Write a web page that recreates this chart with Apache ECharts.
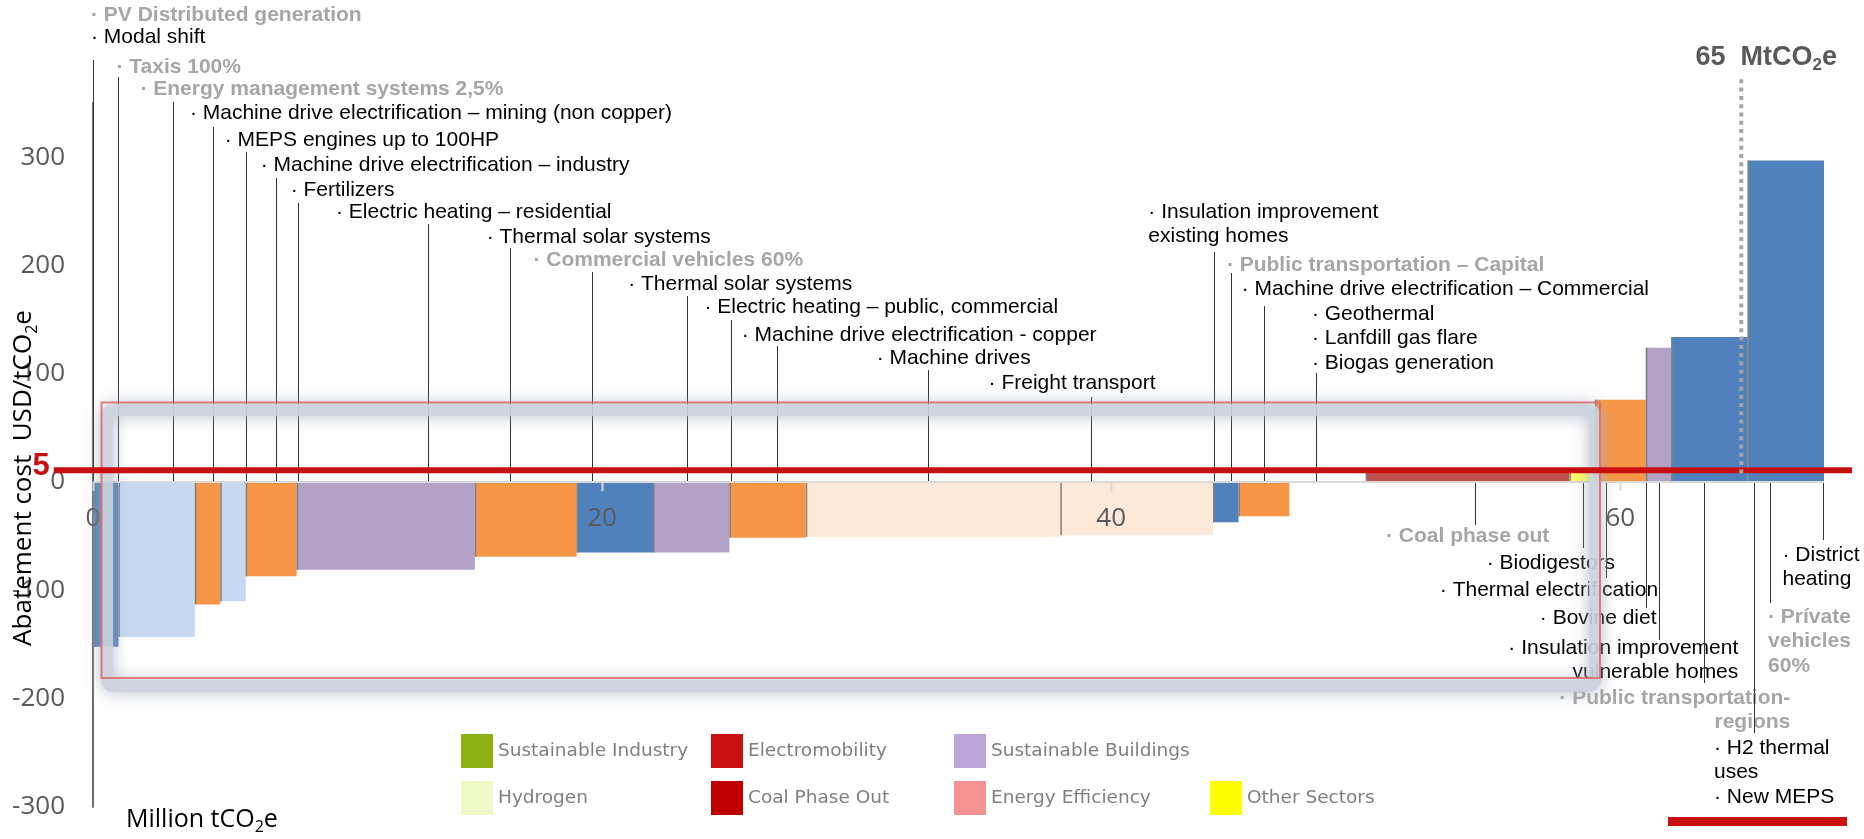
<!DOCTYPE html>
<html>
<head>
<meta charset="utf-8">
<script src="https://cdn.jsdelivr.net/npm/echarts@6/dist/echarts.min.js"></script>
<style>
html,body{margin:0;padding:0;background:#fff;}
#chart{width:1864px;height:839px;}
</style>
</head>
<body>
<div id="chart"></div>
<script>
// ---------------- DATA ----------------
// Bars of the abatement cost curve (width = MtCO2e, cost = USD/tCO2e)
const barWidths = [1, 3, 1, 1, 2, 7, 4, 3, 3, 3, 10, 6, 1, 2, 1, 1, 1, 8, 1, 2, 1, 3, 3];
const barCosts  = [-152, -143, -113, -110, -87, -81, -69, -65, -65, -51.5, -50.5, -49, -37, -31.5, 0, 0, 0, 10, 10, 76, 124, 134, 297];
const barGroups = ['blue','ltblue','orange','ltblue','orange','purple','orange','blue','purple','orange','peach','peach','blue','orange','none','none','none','coal','yellow','orange','purple','blue','blue'];

// Measures annotated on the curve
const measureNames = [
  ['· PV Distributed generation'],
  ['· Modal shift'],
  ['· Taxis 100%'],
  ['· Energy management systems 2,5%'],
  ['· Machine drive electrification – mining (non copper)'],
  ['· MEPS engines up to 100HP'],
  ['· Machine drive electrification – industry'],
  ['· Fertilizers'],
  ['· Electric heating – residential'],
  ['· Thermal solar systems'],
  ['· Commercial vehicles 60%'],
  ['· Thermal solar systems'],
  ['· Electric heating – public, commercial'],
  ['· Machine drive electrification - copper'],
  ['· Machine drives'],
  ['· Freight transport'],
  ['· Insulation improvement', 'existing homes'],
  ['· Public transportation – Capital'],
  ['· Machine drive electrification – Commercial'],
  ['· Geothermal', '· Lanfdill gas flare', '· Biogas generation'],
  ['· Coal phase out'],
  ['· Biodigestors'],
  ['· Thermal electrification'],
  ['· Bovine diet'],
  ['· Insulation improvement', 'vulnerable homes'],
  ['· Public transportation-', 'regions'],
  ['· H2 thermal', 'uses', '· New MEPS'],
  ['· Prívate', 'vehicles', '60%'],
  ['· District', 'heating']
];
const measureX = [0, 0, 1.0, 3.16, 4.71, 6.0, 7.18, 8.04, 13.16, 16.37, 19.62, 23.34, 25.08, 26.86, 32.79, 39.19, 44.05, 44.7, 45.99, 48.04, 54.29, 58.52, 59.43, 61.0, 61.53, 63.3, 65.25, 65.88, 67.98];
const measureFaded = [1,0,1,1,0,0,0,0,0,0,1,0,0,0,0,0,0,1,0,0,1,0,0,0,0,1,0,1,0];

const xTickValues = [0, 20, 40, 60];
const xTickLabels = ['0', '20', '40', '60'];
const yTickValues = [300, 200, 100, 0, -100, -200, -300];
const yTickLabels = ['300', '200', '100', '0', '-100', '-200', '-300'];
const yRange = { min: -300, max: 350 };
const thresholdLine = [-1.54, 69.1, 11];   // x from, x to, cost (red line)
const thresholdLabel = '5';
const totalLine = [64.75, 8, 375];         // x, cost from, cost to (dotted total)
const totalLabel = ['65  MtCO', '2', 'e'];
const legendNames = ['Sustainable Industry','Hydrogen','Electromobility','Coal Phase Out','Sustainable Buildings','Energy Efficiency','Other Sectors'];

// ---------------- LAYOUT / STYLE ----------------
const groupColors = { blue:'#4F81BD', ltblue:'#C6D9F1', orange:'#F79646', purple:'#B2A2C7', peach:'#FDE9D9', coal:'#C0504D', yellow:'#FFFF66', none:'rgba(0,0,0,0)' };
const legendColors = { 'Sustainable Industry':'#8DB012', 'Hydrogen':'#EFF9C8', 'Electromobility':'#C81010', 'Coal Phase Out':'#C00000', 'Sustainable Buildings':'#BCA6D8', 'Energy Efficiency':'#F59393', 'Other Sectors':'#FFFF00' };
// [text dx from leader (px), first line y (px), leader end y (px), align]
const labelLayout = [
  [-2, 15, null], [-2, 37, 60], [-2, 67, 77], [-33, 89, 102], [-23, 113, 127],
  [-21, 140, 152], [-15, 165, 178], [-7, 190, 203], [-92, 212, 224], [-23, 237, 248],
  [-59, 260, 272], [-59, 284, 296], [-27, 307, 320], [-35, 335, 346], [-51, 358, 370],
  [-102, 383, 397], [-66, 212, 252], [-4, 265, 273], [-22, 289, 306], [-4, 314, 373],
  [-89, 536, 525], [-96, 563, 548], [-166, 590, 578], [-106, 618, 608], [79, 648, 640, 'right'],
  [86, 698, 683, 'right'], [-40, 748, 733], [-2, 617, 603], [-41, 555, 540]
];
const LINE_H = 24.5;
const LABEL_FONT = '"Liberation Sans", Arial, Helvetica, sans-serif';
const AXIS_FONT = '"Open Sans", "Noto Sans", sans-serif';

const barStart = [];
(function () { let acc = 0; barWidths.forEach(function (w) { barStart.push(acc); acc += w; }); })();
const xMax = barStart[barStart.length - 1] + barWidths[barWidths.length - 1];

const chart = echarts.init(document.getElementById('chart'), null, { renderer: 'canvas' });

function subRich(size, color, weight, family) {
  return {
    n: { fontSize: size, color: color, fontWeight: weight, fontFamily: family, lineHeight: size + 6 },
    s: { fontSize: Math.round(size * 0.62), color: color, fontWeight: weight, fontFamily: family, verticalAlign: 'bottom', lineHeight: Math.round(size * 0.62) + 2 }
  };
}
function subRichZr(size, color, weight, family) {
  return {
    n: { fontSize: size, fill: color, fontWeight: weight, fontFamily: family, lineHeight: size + 6 },
    s: { fontSize: Math.round(size * 0.62), fill: color, fontWeight: weight, fontFamily: family, verticalAlign: 'bottom', lineHeight: Math.round(size * 0.62) + 2 }
  };
}

function renderBar(params, api) {
  const v = api.value(2);
  if (!v) return null;
  const a = api.coord([api.value(0), 0]);
  const b = api.coord([api.value(1), v]);
  const x = a[0], w = b[0] - a[0];
  const y = Math.min(a[1], b[1]), h = Math.abs(b[1] - a[1]);
  return {
    type: 'group',
    children: [
      { type: 'rect', shape: { x: x, y: y, width: w, height: h }, style: { fill: groupColors[barGroups[params.dataIndex]] } },
      { type: 'line', shape: { x1: x + 0.75, y1: a[1], x2: x + 0.75, y2: b[1] }, style: { stroke: '#808080', lineWidth: 1.5 } }
    ]
  };
}

function renderNote(params, api) {
  const i = params.dataIndex;
  const base = api.coord([measureX[i], 0]);
  const lay = labelLayout[i];
  const faded = measureFaded[i];
  const lx = Math.round(base[0]) + 0.5;
  const children = [];
  measureNames[i].forEach(function (t, k) {
    children.push({
      type: 'text',
      x: base[0] + lay[0],
      y: lay[1] + k * LINE_H,
      style: {
        text: t,
        fill: faded ? '#A6A6A6' : '#000000',
        fontSize: 21,
        fontWeight: faded ? 'bold' : 'normal',
        fontFamily: LABEL_FONT,
        align: lay[3] || 'left',
        verticalAlign: 'middle'
      }
    });
  });
  if (lay[2] != null) {
    children.push({ type: 'line', shape: { x1: lx, y1: lay[2], x2: lx, y2: base[1] }, style: { stroke: '#333333', lineWidth: 1 } });
  }
  return { type: 'group', children: children };
}

function renderXTick(params, api) {
  const i = params.dataIndex;
  const p = api.coord([xTickValues[i], 0]);
  const children = [
    { type: 'line', shape: { x1: Math.round(p[0]) + 0.5, y1: p[1], x2: Math.round(p[0]) + 0.5, y2: p[1] + 9 }, style: { stroke: '#D9D9D9', lineWidth: 2 } },
    { type: 'text', x: p[0], y: p[1] + 37, style: { text: xTickLabels[i], fill: '#595959', fontSize: 26, fontFamily: AXIS_FONT, align: 'center', verticalAlign: 'middle' } }
  ];
  if (i === 0) {
    const e = api.coord([xMax, 0]);
    children.unshift({ type: 'line', shape: { x1: p[0], y1: p[1], x2: e[0], y2: e[1] }, style: { stroke: '#D9D9D9', lineWidth: 2 } });
  }
  return { type: 'group', children: children };
}

function renderYTick(params, api) {
  const i = params.dataIndex;
  const p = api.coord([0, yTickValues[i]]);
  return { type: 'text', x: p[0] - 28, y: p[1], style: { text: yTickLabels[i], fill: '#595959', fontSize: 26, fontFamily: AXIS_FONT, align: 'right', verticalAlign: 'middle' } };
}

function renderThreshold(params, api) {
  const a = api.coord([api.value(0), api.value(2)]);
  const b = api.coord([api.value(1), api.value(2)]);
  return { type: 'group', children: [
    { type: 'line', shape: { x1: a[0], y1: a[1], x2: b[0], y2: b[1] }, style: { stroke: '#C81010', lineWidth: 6 } },
    { type: 'text', x: a[0] - 4, y: a[1] - 4, style: { text: thresholdLabel, fill: '#C81010', fontSize: 31, fontWeight: 'bold', fontFamily: LABEL_FONT, align: 'right', verticalAlign: 'middle' } }
  ]};
}

function renderTotal(params, api) {
  const a = api.coord([api.value(0), api.value(1)]);
  const b = api.coord([api.value(0), api.value(2)]);
  return { type: 'group', children: [
    { type: 'line', shape: { x1: a[0], y1: a[1], x2: b[0], y2: b[1] }, style: { stroke: '#A6A6A6', lineWidth: 4, lineDash: [4, 4.3] } },
    { type: 'text', x: b[0] + 25, y: b[1] - 2,
      style: { text: '{n|' + totalLabel[0] + '}{s|' + totalLabel[1] + '}{n|' + totalLabel[2] + '}', rich: subRichZr(27, '#595959', 'bold', LABEL_FONT), align: 'center', verticalAlign: 'bottom' } }
  ]};
}

const legendCols = [[legendNames[0], legendNames[1]], [legendNames[2], legendNames[3]], [legendNames[4], legendNames[5]], [legendNames[6]]];
const legendPos = [[461, 734], [711, 734], [954, 734], [1210, 781]];

const option = {
  animation: false,
  backgroundColor: '#ffffff',
  grid: { left: 93, right: 40, top: 103, bottom: 32, containLabel: false, outerBoundsMode: 'none' },
  xAxis: {
    type: 'value', min: 0, max: xMax, interval: 20,
    axisLine: { show: false, onZero: false },
    axisTick: { show: false },
    axisLabel: { show: false },
    splitLine: { show: false }
  },
  yAxis: {
    type: 'value', min: yRange.min, max: yRange.max, interval: 100,
    axisLine: { show: true, onZero: false, lineStyle: { color: '#6E6E6E', width: 2 } },
    axisTick: { show: false },
    axisLabel: { show: false },
    splitLine: { show: false }
  },
  legend: legendCols.map(function (col, i) {
    return {
      data: col, left: legendPos[i][0], top: legendPos[i][1], orient: 'vertical', padding: 0,
      itemWidth: 32, itemHeight: 34, itemGap: 13, icon: 'rect', selectedMode: false,
      textStyle: { color: '#7F7F7F', fontSize: 18.5, fontFamily: '"DejaVu Sans", Verdana, sans-serif' }
    };
  }),
  series: [
    {
      type: 'custom', name: 'bars', z: 2, clip: false,
      renderItem: renderBar,
      encode: { x: [0, 1], y: 2 },
      data: barWidths.map(function (w, i) { return [barStart[i], barStart[i] + w, barCosts[i]]; })
    },
    {
      type: 'custom', name: 'notes', z: 2, clip: false,
      renderItem: renderNote,
      encode: { x: 0, y: 1 },
      data: measureX.map(function (x) { return [x, 0]; })
    },
    {
      type: 'custom', name: 'xticks', z: 3, clip: false,
      renderItem: renderXTick,
      encode: { x: 0, y: 1 },
      data: xTickValues.map(function (v) { return [v, 0]; })
    },
    {
      type: 'custom', name: 'yticks', z: 3, clip: false,
      renderItem: renderYTick,
      encode: { x: 0, y: 1 },
      data: yTickValues.map(function (v) { return [0, v]; })
    },
    {
      type: 'custom', name: 'threshold', z: 6, clip: false,
      renderItem: renderThreshold,
      encode: { x: [0, 1], y: 2 },
      data: [thresholdLine]
    },
    {
      type: 'custom', name: 'total', z: 6, clip: false,
      renderItem: renderTotal,
      encode: { x: 0, y: [1, 2] },
      data: [totalLine]
    }
  ].concat(legendNames.map(function (n) {
    return { type: 'scatter', name: n, data: [], itemStyle: { color: legendColors[n], opacity: 1 } };
  })),
  graphic: {
    elements: [
      { type: 'rect', z: 4, silent: true,
        shape: { x: 107, y: 410, width: 1488, height: 276, r: 6 },
        style: { fill: 'rgba(0,0,0,0)', stroke: 'rgba(206,212,221,0.85)', lineWidth: 12, shadowBlur: 16, shadowColor: 'rgba(165,174,190,1)' } },
      { type: 'rect', z: 4, silent: true,
        shape: { x: 101.5, y: 402.5, width: 1498.5, height: 275.5 },
        style: { fill: 'rgba(0,0,0,0)', stroke: 'rgba(222,96,96,0.8)', lineWidth: 2 } },
      { type: 'rect', z: 5, silent: true,
        shape: { x: 1668, y: 817, width: 179, height: 9 },
        style: { fill: '#C81010' } },
      { type: 'text', z: 5, silent: true, x: 126, y: 820,
        style: { text: '{n|Million tCO}{s|2}{n|e}', rich: subRich(25, '#595959', 'normal', AXIS_FONT), align: 'left', verticalAlign: 'middle' } },
      { type: 'text', z: 5, silent: true, x: 24, y: 478, rotation: Math.PI / 2,
        style: { text: '{n|Abatement cost  USD/tCO}{s|2}{n|e}', rich: subRich(26, '#595959', 'normal', AXIS_FONT), align: 'center', verticalAlign: 'middle' } }
    ]
  }
};

chart.setOption(option);
</script>
</body>
</html>
